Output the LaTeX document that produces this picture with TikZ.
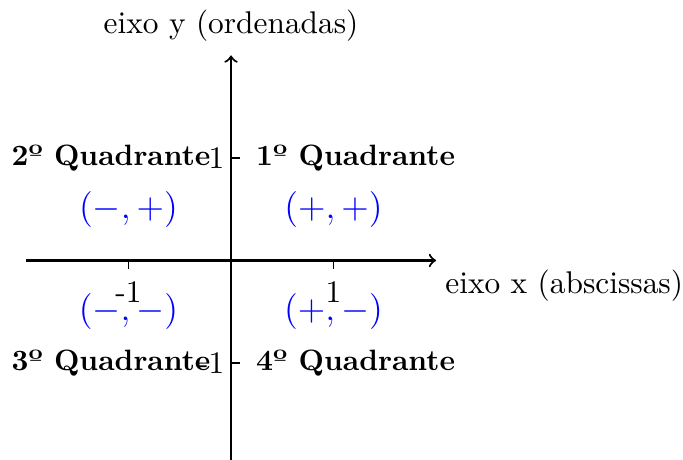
\documentclass[tikz,border=0pt]{standalone}
\begin{document}
\begin{tikzpicture}[x=1.2cm,y=1.2cm,
  font=\fontsize{10.45}{12.5}\selectfont,
  axis/.style={line width=0.7pt,->},
  tickmark/.style={line width=0.4pt},
  quad/.style={font=\fontsize{9.8}{11.8}\selectfont\bfseries, inner sep=0pt},
  sign/.style={text=blue, font=\fontsize{13}{15.6}\selectfont},
  ticklabel/.style={inner sep=0pt},
  axlabel/.style={inner sep=0pt}]
\useasboundingbox (-2.254,-1.946) rectangle (4.409,2.541);
% axes
\coordinate (xs) at (-2,0);
\coordinate (xe) at (2,0);
\coordinate (ys) at (0,-2);
\coordinate (ye) at (0,2);
\draw[axis] (xs) -- (xe);
\draw[axis] (ys) -- (ye);
% tick marks
\coordinate (tx1a) at (-1,0); \coordinate (tx1b) at (-1,-0.08);
\coordinate (tx2a) at (1,0);  \coordinate (tx2b) at (1,-0.08);
\coordinate (ty1a) at (0,1);  \coordinate (ty1b) at (0.09,1);
\coordinate (ty2a) at (0,-1); \coordinate (ty2b) at (0.09,-1);
\draw[tickmark] (tx1a) -- (tx1b);
\draw[tickmark] (tx2a) -- (tx2b);
\draw[tickmark] (ty1a) -- (ty1b);
\draw[tickmark] (ty2a) -- (ty2b);
% tick labels
\node[anchor=north] (lxm) at (-1,-0.1) {-1};
\node[anchor=north] (lxp) at (1,-0.1) {1};
\node[ticklabel, anchor=east] (lyp) at (-0.06,1) {1};
\node[ticklabel, anchor=east] (lym) at (-0.06,-1) {-1};
% axis labels
\node[axlabel, anchor=base] (ylab) at (0,2.215) {eixo y (ordenadas)};
\node[axlabel, anchor=base west] (xlab) at (2.085,-0.325) {eixo x (abscissas)};
% quadrant names
\node[quad, anchor=west] (q1) at (0.24,1) {1º Quadrante};
\node[quad, anchor=east] (q2) at (-0.195,1) {2º Quadrante};
\node[quad, anchor=east] (q3) at (-0.195,-1) {3º Quadrante};
\node[quad, anchor=west] (q4) at (0.24,-1) {4º Quadrante};
% signs
\node[sign] (s1) at (1,0.5) {$(+,+)$};
\node[sign] (s2) at (-1,0.5) {$(-,+)$};
\node[sign] (s3) at (-1,-0.5) {$(-,-)$};
\node[sign] (s4) at (1,-0.5) {$(+,-)$};
\end{tikzpicture}
\end{document}
